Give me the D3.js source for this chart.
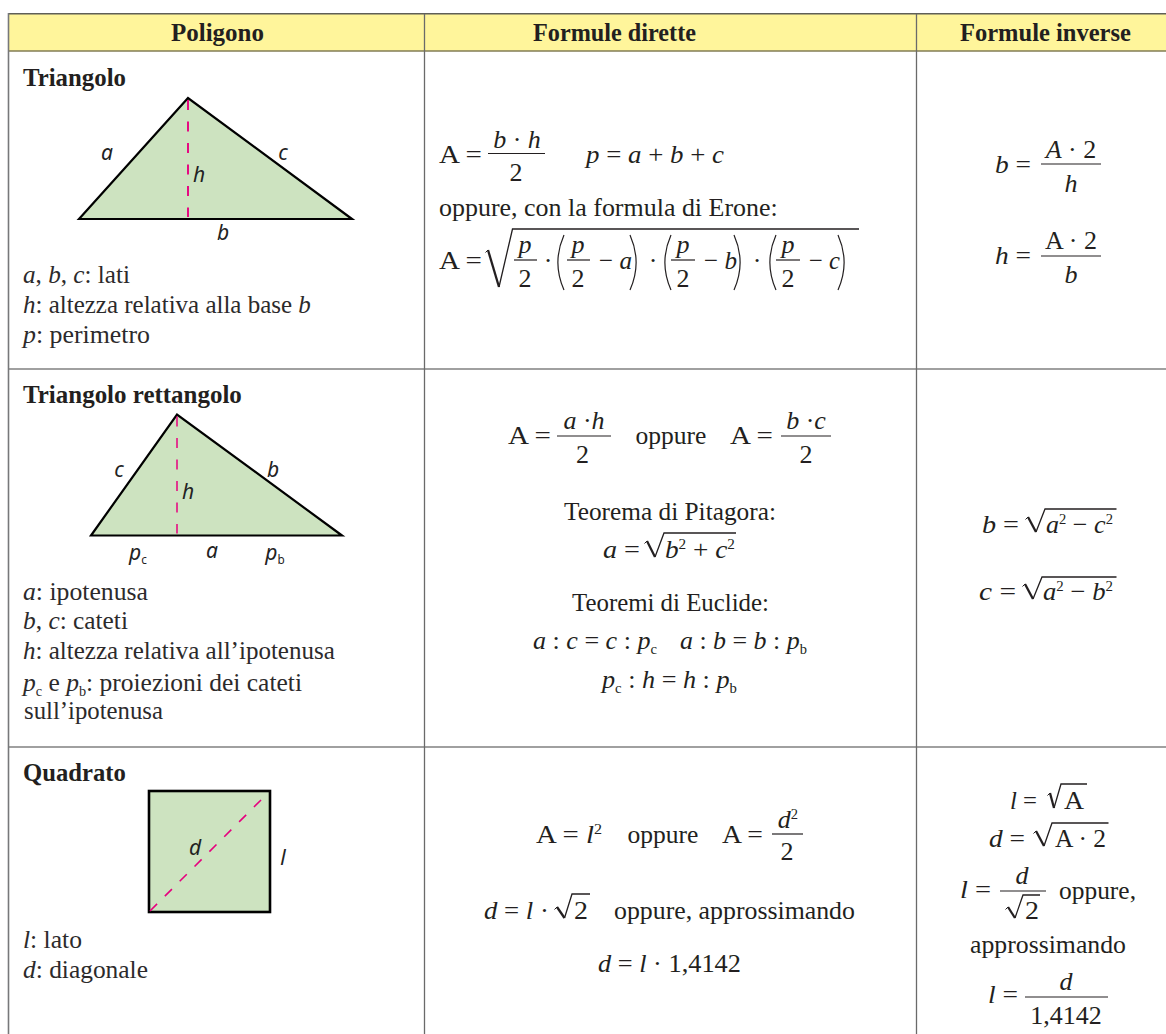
<!DOCTYPE html>
<html><head><meta charset="utf-8">
<script src="https://cdn.jsdelivr.net/npm/d3@7"></script>
<style>html,body{margin:0;padding:0;background:#fff;overflow:hidden}svg{display:block}</style>
</head><body><svg id="c" width="1166" height="1034"></svg>
<script>
// ---- content ----
const headers = ["Poligono", "Formule dirette", "Formule inverse"];
const polygonNames = ["Triangolo", "Triangolo rettangolo", "Quadrato"];
const triangleLegend = ["*a*, *b*, *c*: lati", "*h*: altezza relativa alla base *b*", "*p*: perimetro"];
const rightLegend = ["*a*: ipotenusa", "*b*, *c*: cateti", "*h*: altezza relativa all’ipotenusa", "*p*~c e *p*~b: proiezioni dei cateti", "sull’ipotenusa"];
const squareLegend = ["*l*: lato", "*d*: diagonale"];
// figure geometry (apex / foot in figure units)
const triangleShape = [[0, 0], [109, 121], [273, 0]];
const triangleHeight = [[109, 119], [109, 2]];
const rightShape = [[0, 0], [86, 121], [251, 0]];
const rightHeight = [[86, 119], [86, 2]];
const squareSide = 121;
// formula strings
const triDirect = ["A =", "*b* · *h*", "2", "*p* = *a* + *b* + *c*", "oppure, con la formula di Erone:", "A =", "*p*", "2", "·", "*p*", "2", "− *a*", "·", "*p*", "2", "− *b*", "·", "*p*", "2", "− *c*"];
const triInverse = ["*b* =", "*A* · 2", "*h*", "*h* =", "A · 2", "*b*"];
const rightDirect = ["A =", "*a* ·*h*", "2", "oppure", "A =", "*b* ·*c*", "2", "Teorema di Pitagora:", "*a* =", "*b*^2 + *c*^2", "Teoremi di Euclide:", "*a* : *c* = *c* : *p*~c", "*a* : *b* = *b* : *p*~b", "*p*~c : *h* = *h* : *p*~b"];
const rightInverse = ["*b* =", "*a*^2 − *c*^2", "*c* =", "*a*^2 − *b*^2"];
const squareDirect = ["A = *l*^2", "oppure", "A =", "*d*^2", "2", "*d* = *l* ·", "2", "oppure, approssimando", "*d* = *l* · 1,4142"];
const squareInverse = ["*l* =", "A", "*d* =", "A · 2", "*l* =", "*d*", "2", "oppure,", "approssimando", "*l* =", "*d*", "1,4142"];

// ---- drawing ----
const svg = d3.select("#c");
const INK = "#231f20";
const SERIF = "'Liberation Serif','Times New Roman',serif";
const SANS = "'Noto Sans','Open Sans',sans-serif";

function markup(sel, str, size) {
  // *x* italic, ^c superscript, ~c subscript
  const re = /\*([^*]+)\*|\^(.)|~(.)|([^*^~]+)/g;
  let m, back = 0;
  while ((m = re.exec(str))) {
    const ts = sel.append("tspan").style("white-space", "pre");
    let dy = back; back = 0;
    if (m[1]) ts.attr("font-style", "italic").text(m[1]);
    else if (m[2]) { ts.attr("font-size", size * .56).text(m[2]); dy -= size * .36; back = size * .36; }
    else if (m[3]) { ts.attr("font-size", size * .56).text(m[3]); dy += size * .18; back = -size * .18; }
    else ts.text(m[4]);
    if (dy) ts.attr("dy", dy);
  }
}
function put(str, x, y, w, o = {}) {
  const size = o.size || 26;
  const t = svg.append("text").attr("font-family", o.font || SERIF).attr("font-size", size)
    .attr("font-weight", o.weight || null).attr("fill", o.fill || INK)
    .attr("text-anchor", w ? "start" : "middle").style("white-space", "pre");
  markup(t, str, size);
  const sx = w ? w / t.node().getComputedTextLength() : 1;
  t.attr("transform", `translate(${x},${y + 1}) scale(${sx},1)`);
  return t;
}
const place = (texts, layout, o) => layout.forEach((p, i) => put(texts[i], p[0], p[1], p[2], o));
const rule = (x1, y1, x2, y2, c = INK, w = 1.2) => svg.append("line").attr("x1", x1).attr("y1", y1).attr("x2", x2).attr("y2", y2).attr("stroke", c).attr("stroke-width", w);
const bars = list => list.forEach(b => rule(b[0], b[2], b[1], b[2], INK, 1.2));
const poly = d3.line();
function radical(tick, foot, top, end) {
  svg.append("path").attr("d", poly([[tick[0] - 2.5, tick[1] + 2.5], tick])).attr("stroke", INK).attr("stroke-width", 1).attr("fill", "none");
  svg.append("path").attr("d", poly([tick, foot])).attr("stroke", INK).attr("stroke-width", 2.3).attr("fill", "none");
  svg.append("path").attr("d", poly([foot, top, [end, top[1]]])).attr("stroke", INK).attr("stroke-width", 1.3).attr("fill", "none");
}
function paren(x, y0, y1, dir) {
  const p = d3.path(), b = 7 * dir;
  p.moveTo(x + b, y0); p.quadraticCurveTo(x - b * .75, (y0 + y1) / 2, x + b, y1);
  svg.append("path").attr("d", p.toString()).attr("fill", "none").attr("stroke", INK).attr("stroke-width", 1.2);
}

// table frame
const xs = d3.scaleOrdinal().domain(headers).range([8.5, 424.5, 916.5]);
const headerCx = [217.5, 614.5, 1045.5];
const headerW = [93, 163, 171];
svg.append("rect").attr("x", 8.5).attr("y", 14).attr("width", 1158).attr("height", 37).attr("fill", "#fff59b");
rule(8, 13.8, 1166, 13.8, "#5f5f58", 1.5);
rule(8, 51, 1166, 51, "#827d55", 1.5);
rule(8, 369, 1166, 369, "#808080", 1.6);
rule(8, 747, 1166, 747, "#808080", 1.6);
rule(8.5, 13, 8.5, 1034, "#77787a", 1.6);
headers.forEach((h, i) => {
  if (i) rule(xs(h), 14, xs(h), 1034, "#6a6a6a", 1.3);
  put(h, headerCx[i] - headerW[i] / 2, 40, headerW[i], { weight: 700, size: 25 });
});

// figures
const GREEN = "#cde3c0", PINK = "#e6007e";
function figure(shape, h, x0, yBase, w, dashW) {
  const x = d3.scaleLinear().domain([0, w]).range([x0, x0 + w]);
  const y = d3.scaleLinear().domain([0, 121]).range([yBase, yBase - 121]);
  const ln = d3.line().x(d => x(d[0])).y(d => y(d[1]));
  svg.append("path").attr("d", ln(shape) + "Z").attr("fill", GREEN).attr("stroke", "#000").attr("stroke-width", 2.2).attr("stroke-linejoin", "miter");
  svg.append("path").attr("d", ln(h)).attr("stroke", PINK).attr("stroke-width", dashW).attr("stroke-dasharray", "10 11.5").attr("fill", "none");
}
figure(triangleShape, triangleHeight, 79, 219, 273, 1.9);
figure(rightShape, rightHeight, 91, 535.5, 251, 1.5);
{
  const s = d3.scaleLinear().domain([0, squareSide]).range([0, 121]);
  svg.append("rect").attr("x", 149).attr("y", 791).attr("width", s(squareSide)).attr("height", s(squareSide)).attr("fill", GREEN).attr("stroke", "#000").attr("stroke-width", 2.6);
  svg.append("line").attr("x1", 150).attr("y1", 911).attr("x2", 264).attr("y2", 797).attr("stroke", PINK).attr("stroke-width", 1.6).attr("stroke-dasharray", "10 11");
}
const lab = { font: SANS, size: 21, fill: "#222" };
const label = (s, x, y) => put(s, x, y - 1, null, lab);
[["*a*", 107, 160], ["*c*", 283, 160], ["*h*", 199, 182], ["*b*", 223, 240],
 ["*c*", 119, 477], ["*b*", 273, 477], ["*h*", 188, 499], ["*p*~c", 138, 560], ["*a*", 212, 558], ["*p*~b", 275, 560],
 ["*d*", 195, 855], ["*l*", 283, 865]].forEach(d => label(...d));

// left column text
const nameW = [103, 219, 103];
[85, 402, 780].forEach((y, i) => put(polygonNames[i], 23, y, nameW[i], { weight: 700, size: 25 }));
place(triangleLegend, [[23, 282, 107], [23, 312, 288], [23, 342, 127]], { size: 25, fill: "#2c2a2b" });
place(rightLegend, [[23, 599, 125], [23, 628, 105], [23, 658, 312], [23, 690, 279], [24, 718, 139]], { size: 25, fill: "#2c2a2b" });
place(squareLegend, [[23, 947, 59], [23, 977, 125]], { size: 25, fill: "#2c2a2b" });

// triangle - direct
place(triDirect, [[439, 162, 43], [517, 147], [516, 180], [586, 162, 138], [439, 215, 339], [439, 268, 43],
  [525, 252], [525, 286], [548, 268], [578, 252], [578, 286], [599, 268, 33], [653, 268], [683, 252], [683, 286], [704, 268, 33], [757, 268], [788, 252], [788, 286], [809, 268, 31]]);
bars([[488, 545, 153.5], [514, 537, 260], [567, 590, 260], [671, 695, 260], [776, 800, 260]]);
radical([488, 250], [499, 287], [512.5, 229], 859);
paren(557, 235, 290, 1); paren(637, 235, 290, -1); paren(664, 235, 290, 1); paren(741, 235, 290, -1); paren(769, 235, 290, 1); paren(845, 235, 290, -1);

// triangle - inverse
place(triInverse, [[995, 172, 36], [1071, 157], [1071, 191], [995, 263, 36], [1071, 248], [1071, 282]]);
bars([[1041, 1101, 164], [1041, 1101, 256]]);

// right triangle - direct
place(rightDirect, [[508, 443, 43], [584, 428], [582.5, 462], [635.5, 443, 71], [730, 443, 43], [806, 428], [806, 462],
  [564, 519, 212], [603, 557, 37], [665, 557, 70], [572, 610, 197], [533, 648, 124], [680, 648, 127], [602, 687, 135]]);
bars([[557, 611, 436], [781, 831, 436]]);
radical([647, 541], [655, 557], [664, 533], 736);

// right triangle - inverse
place(rightInverse, [[982, 532, 37], [1046, 532, 67], [979, 599, 37], [1043, 599, 70]]);
radical([1028, 517], [1036, 532], [1045, 509], 1116.5);
radical([1025, 584], [1033, 599], [1042, 577], 1116.5);

// square - direct
place(squareDirect, [[536, 842, 66], [627.5, 842, 71], [722, 842, 41], [788, 827], [787, 859], [484, 918, 65], [574, 918, 14], [614, 918, 241], [598, 971, 143]]);
bars([[772, 803, 834]]);
radical([557, 907], [564.5, 918], [572, 894], 590);

// square - inverse
place(squareInverse, [[1010, 808, 27], [1064, 808, 20], [989, 846, 36], [1055, 846, 51], [960, 897, 31], [1022, 883], [1025, 918, 14], [1059, 898, 77], [970, 952, 156], [988, 1002, 30], [1066, 989], [1066, 1023]]);
bars([[1000, 1046, 891], [1025, 1108, 997]]);
radical([1050, 793], [1054, 808], [1061, 784], 1087);
radical([1036, 831], [1044, 846], [1052, 823], 1108.5);
radical([1008, 907], [1015, 918], [1023, 895], 1040);
</script></body></html>
